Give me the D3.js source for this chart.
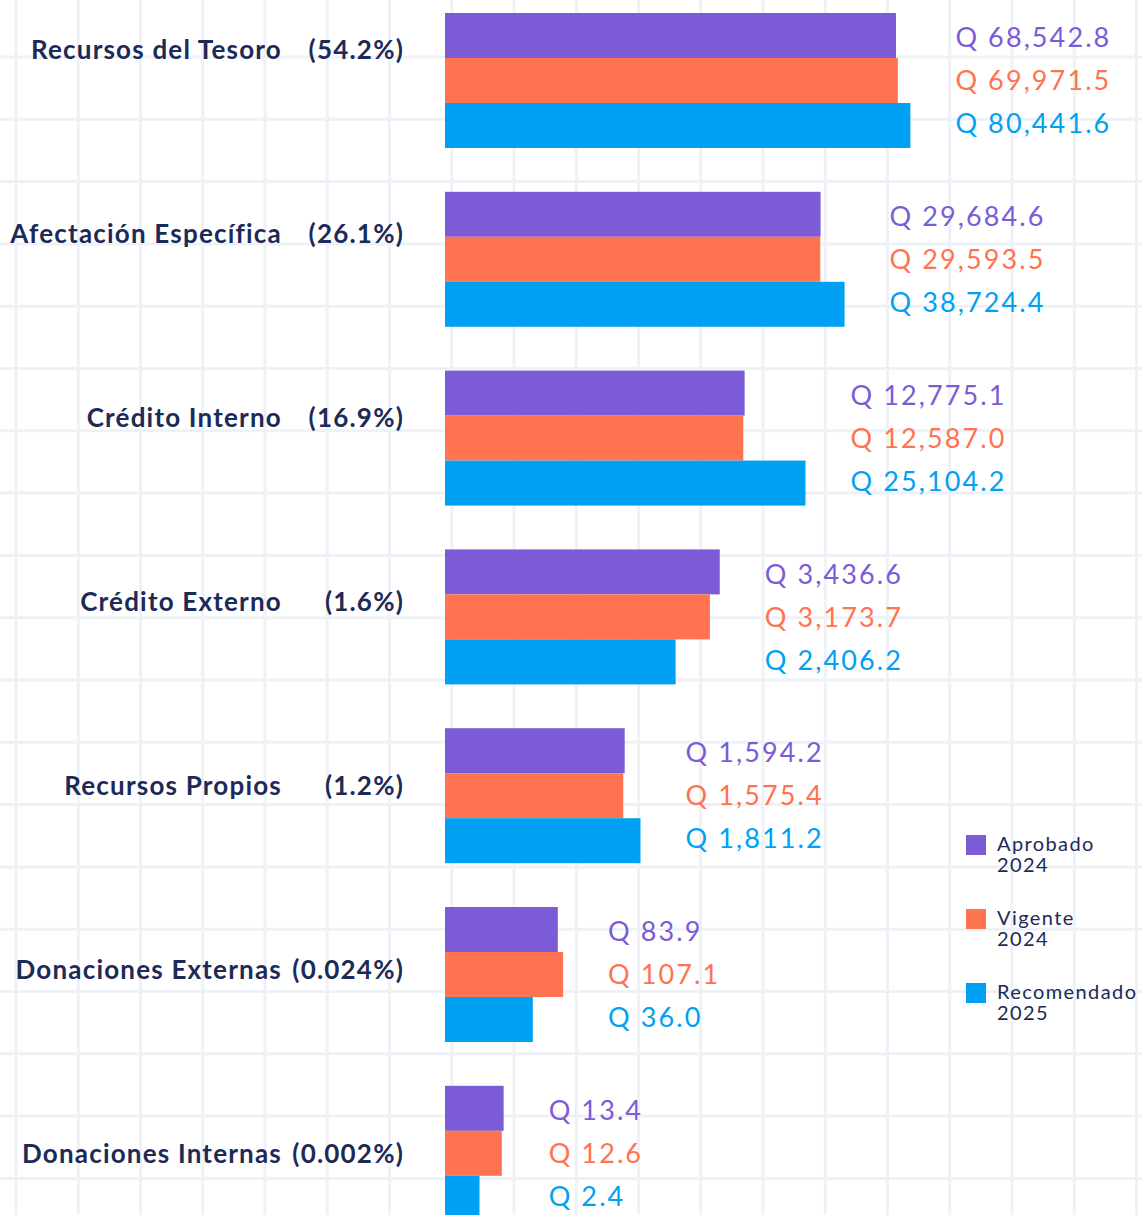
<!DOCTYPE html>
<html>
<head>
<meta charset="utf-8">
<script src="https://cdn.jsdelivr.net/npm/d3@7"></script>
<style>
  html, body { margin: 0; padding: 0; background: #ffffff; }
  svg { display: block; }
</style>
</head>
<body>
<div id="chart"></div>
<script>
// data (millones de quetzales)
const categories = ['Recursos del Tesoro', 'Afectación Específica', 'Crédito Interno', 'Crédito Externo',
  'Recursos Propios', 'Donaciones Externas', 'Donaciones Internas'];
const shares = ['(54.2%)', '(26.1%)', '(16.9%)', '(1.6%)', '(1.2%)', '(0.024%)', '(0.002%)'];
const seriesNames = ['Aprobado', 'Vigente', 'Recomendado'];
const seriesYears = ['2024', '2024', '2025'];
const aprobado2024 = [68542.8, 29684.6, 12775.1, 3436.6, 1594.2, 83.9, 13.4];
const vigente2024 = [69971.5, 29593.5, 12587.0, 3173.7, 1575.4, 107.1, 12.6];
const recomendado2025 = [80441.6, 38724.4, 25104.2, 2406.2, 1811.2, 36.0, 2.4];

const colors = ['#7b5cd6', '#ff7350', '#00a1f2'];
const ink = '#1b2a56';
const width = 1142, height = 1215;

const values = [aprobado2024, vigente2024, recomendado2025];
const rows = categories.map((c, i) => ({
  cat: c, share: shares[i],
  vals: seriesNames.map((s, j) => ({ s, v: values[j][i], c: colors[j] }))
}));

const svg = d3.select('#chart').append('svg')
  .attr('width', width)
  .attr('height', height);

// notebook grid in the background
const grid = svg.append('g').attr('stroke', '#eef1f6').attr('stroke-width', 3);
grid.selectAll('line.v').data(d3.range(19)).enter().append('line')
  .attr('class', 'v')
  .attr('x1', k => 16 + k * 62.25).attr('x2', k => 16 + k * 62.25)
  .attr('y1', 0).attr('y2', height);
grid.selectAll('line.h').data(d3.range(21)).enter().append('line')
  .attr('class', 'h')
  .attr('x1', 0).attr('x2', width)
  .attr('y1', k => -5.3 + k * 62.3).attr('y2', k => -5.3 + k * 62.3);

// the original bars are drawn on a compressed, log-like axis
const x = d3.scaleLog()
  .domain([1, 10, 100, 1000, 3500, 12000, 100000])
  .range([470, 495, 563, 567, 722, 739, 930]);
const x0 = 445;

const y = d3.scaleBand().domain(categories).range([13, 1220.8]).paddingInner(0.245).paddingOuter(0);
const yInner = d3.scaleBand().domain(seriesNames).range([0, y.bandwidth()]);
const yLabel = d3.scalePoint().domain(categories).range([50, 1154]);

const fmt = v => 'Q ' + d3.format(',.1f')(v);

const groups = svg.selectAll('g.group').data(rows).enter().append('g')
  .attr('class', 'group')
  .attr('transform', d => `translate(0,${y(d.cat)})`);

groups.selectAll('rect').data(d => d.vals).enter().append('rect')
  .attr('x', x0)
  .attr('y', d => yInner(d.s))
  .attr('width', d => x(d.v) - x0)
  .attr('height', yInner.bandwidth())
  .attr('fill', d => d.c);

groups.each(function (d) {
  const lx = x(d3.max(d.vals, v => v.v)) + 45;
  d3.select(this).selectAll('text.val').data(d.vals).enter().append('text')
    .attr('class', 'val')
    .attr('x', lx)
    .attr('y', (v, i) => yInner(v.s) + yInner.bandwidth() / 2 + (1 - i) * 2)
    .attr('dy', '0.36em')
    .attr('fill', v => v.c)
    .style('font-family', 'Lato, sans-serif')
    .style('font-size', '27px')
    .style('letter-spacing', '2.1px')
    .text(v => fmt(v.v));
});

// category labels on the left
const labels = svg.append('g')
  .style('font-family', 'Lato, sans-serif')
  .style('font-weight', 700)
  .style('font-size', '26px')
  .style('letter-spacing', '1.2px')
  .attr('fill', ink);
labels.selectAll('text.cat').data(rows).enter().append('text')
  .attr('class', 'cat')
  .attr('x', 282).attr('y', d => yLabel(d.cat))
  .attr('dy', '0.36em')
  .attr('text-anchor', 'end')
  .text(d => d.cat);
labels.selectAll('text.share').data(rows).enter().append('text')
  .attr('class', 'share')
  .attr('x', 404).attr('y', d => yLabel(d.cat))
  .attr('dy', '0.36em')
  .attr('text-anchor', 'end')
  .text(d => d.share);

// legend
const legend = svg.append('g').attr('transform', 'translate(966,835)');
const item = legend.selectAll('g').data(seriesNames).enter().append('g')
  .attr('transform', (d, i) => `translate(0,${i * 74})`);
item.append('rect').attr('width', 20).attr('height', 20).attr('fill', (d, i) => colors[i]);
const legendText = (sel, dy, fn) => sel.append('text')
  .attr('x', 31).attr('y', dy)
  .attr('fill', ink)
  .style('font-family', 'Lato, sans-serif')
  .style('font-size', '20px')
  .style('letter-spacing', '1.4px')
  .text(fn);
legendText(item, 16, d => d);
legendText(item, 37, (d, i) => seriesYears[i]);
</script>
</body>
</html>
